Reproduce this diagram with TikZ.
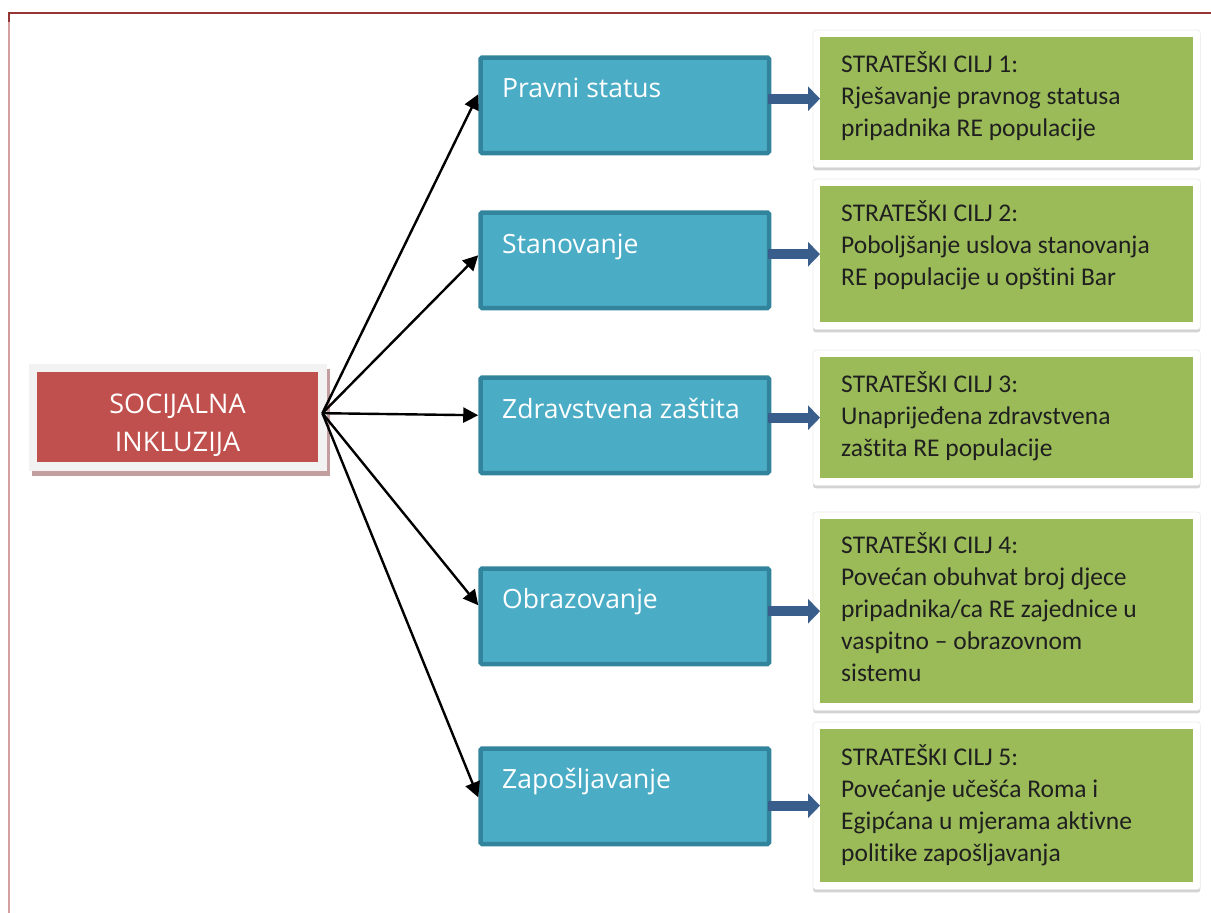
\documentclass[tikz,border=0pt]{standalone}
\usepackage{fontspec}
\setmainfont{Open Sans}
\newfontfamily\calib{Carlito}[Ligatures=NoCommon]
\usetikzlibrary{arrows.meta,shadows,fit,backgrounds}
\definecolor{frameRed}{HTML}{943634}
\definecolor{framePink}{HTML}{D4A0A0}
\definecolor{socRed}{HTML}{C0504D}
\definecolor{socFrame}{HTML}{F2F2F2}
\definecolor{socShadow}{HTML}{C29E9E}
\definecolor{blueFill}{HTML}{4BACC6}
\definecolor{blueLine}{HTML}{31849B}
\definecolor{goalGreen}{HTML}{9BBB59}
\definecolor{navyArrow}{HTML}{3A5E8C}
\begin{document}
\begin{tikzpicture}[x=1pt,y=-1pt,
 bluebox/.style={draw=blueLine, fill=blueFill, line width=4.5pt, rounded corners=1.5pt, minimum width=288.5pt, minimum height=95.5pt, anchor=north west, inner sep=0pt},
 bluelbl/.style={anchor=base west, text=white, font=\fontsize{26.5}{30}\selectfont, inner sep=0pt},
 goalbox/.style={fill=goalGreen, minimum width=373pt, anchor=north west, inner sep=0pt},
 goalframe/.style={fill=white, draw=black!8, line width=0.6pt, rounded corners=3pt, inner sep=7pt, drop shadow={shadow xshift=0pt, shadow yshift=-3pt, opacity=0.35}},
 goaltxt/.style={anchor=north west, align=left, inner sep=0pt, text=black!88, font=\calib\fontsize{25.5}{32}\selectfont},
 link/.style={line width=2.4pt, -{Triangle[length=15pt,width=15pt]}},
 feed/.style={draw=navyArrow, line width=10pt, -{Triangle[length=12pt,width=24pt]}}
]
\useasboundingbox (0,0) rectangle (1211,913);
% page frame
\draw[framePink, line width=2pt] (9,14) -- (9,913);
\draw[frameRed, line width=2pt] (8,13) -- (1211,13);
\draw[frameRed, line width=2pt] (9,13) -- (9,22);

% central node
\node[fill=socRed, minimum width=281pt, minimum height=90pt, inner sep=0pt, anchor=north west] (soc) at (37,372) {};
\begin{scope}[on background layer]
\node[fit=(soc), inner sep=8.5pt, fill=socFrame, drop shadow={shadow xshift=3.5pt, shadow yshift=-5pt, fill=socShadow, opacity=1}] (socframe) {};
\end{scope}
\node[anchor=north, align=center, text=white, font=\fontsize{27}{38}\selectfont, inner sep=0pt] (soclbl) at (177.5,386.4) {\strut SOCIJALNA\\INKLUZIJA};
\coordinate (hub) at ([xshift=4pt,yshift=4pt]soc.east);

% blue boxes
\node[bluebox] (b1) at (478.25,55.25) {};
\node[bluebox] (b2) at (478.25,210.25) {};
\node[bluebox] (b3) at (478.25,375.25) {};
\node[bluebox] (b4) at (478.25,566.25) {};
\node[bluebox] (b5) at (478.25,746.25) {};
\node[bluelbl] (l1) at (502,97) {Pravni status};
\node[bluelbl] (l2) at (502,253) {Stanovanje};
\node[bluelbl] (l3) at (502,418) {Zdravstvena zaštita};
\node[bluelbl] (l4) at (502,608) {Obrazovanje};
\node[bluelbl] (l5) at (502,788) {Zapošljavanje};

% green goal boxes
\node[goalbox, minimum height=123pt] (g1) at (820,37) {};
\node[goalbox, minimum height=136pt] (g2) at (820,186) {};
\node[goalbox, minimum height=121pt] (g3) at (820,357) {};
\node[goalbox, minimum height=184pt] (g4) at (820,519) {};
\node[goalbox, minimum height=153pt] (g5) at (820,729) {};
\begin{scope}[on background layer]
\node[goalframe, fit=(g1)] (f1) {};
\node[goalframe, fit=(g2)] (f2) {};
\node[goalframe, fit=(g3)] (f3) {};
\node[goalframe, fit=(g4)] (f4) {};
\node[goalframe, fit=(g5)] (f5) {};
\end{scope}
\node[goaltxt] (t1) at (841,49.6) {\strut STRATEŠKI CILJ 1:\\Rješavanje pravnog statusa\\pripadnika RE populacije};
\node[goaltxt] (t2) at (841,198.6) {\strut STRATEŠKI CILJ 2:\\Poboljšanje uslova stanovanja\\RE populacije u opštini Bar};
\node[goaltxt] (t3) at (841,369.6) {\strut STRATEŠKI CILJ 3:\\Unaprijeđena zdravstvena\\zaštita RE populacije};
\node[goaltxt] (t4) at (841,530.6) {\strut STRATEŠKI CILJ 4:\\Povećan obuhvat broj djece\\pripadnika/ca RE zajednice u\\vaspitno – obrazovnom\\sistemu};
\node[goaltxt] (t5) at (841,742.6) {\strut STRATEŠKI CILJ 5:\\Povećanje učešća Roma i\\Egipćana u mjerama aktivne\\politike zapošljavanja};

% black links
\draw[link] (hub) -- ([yshift=11pt]b1.west);
\draw[link] (hub) -- ([yshift=5pt]b2.west);
\draw[link] (hub) -- ([yshift=10pt]b3.west);
\draw[link] (hub) -- ([yshift=11pt]b4.west);
\draw[link] (hub) -- ([yshift=-1pt]b5.west);

% blue feed arrows
\draw[feed] ([xshift=-3pt]b1.east |- g1.west) -- (g1.west);
\draw[feed] ([xshift=-3pt]b2.east |- g2.west) -- (g2.west);
\draw[feed] ([xshift=-3pt]b3.east |- g3.west) -- (g3.west);
\draw[feed] ([xshift=-3pt]b4.east |- g4.west) -- (g4.west);
\draw[feed] ([xshift=-3pt]b5.east |- g5.west) -- (g5.west);
\end{tikzpicture}
\end{document}
